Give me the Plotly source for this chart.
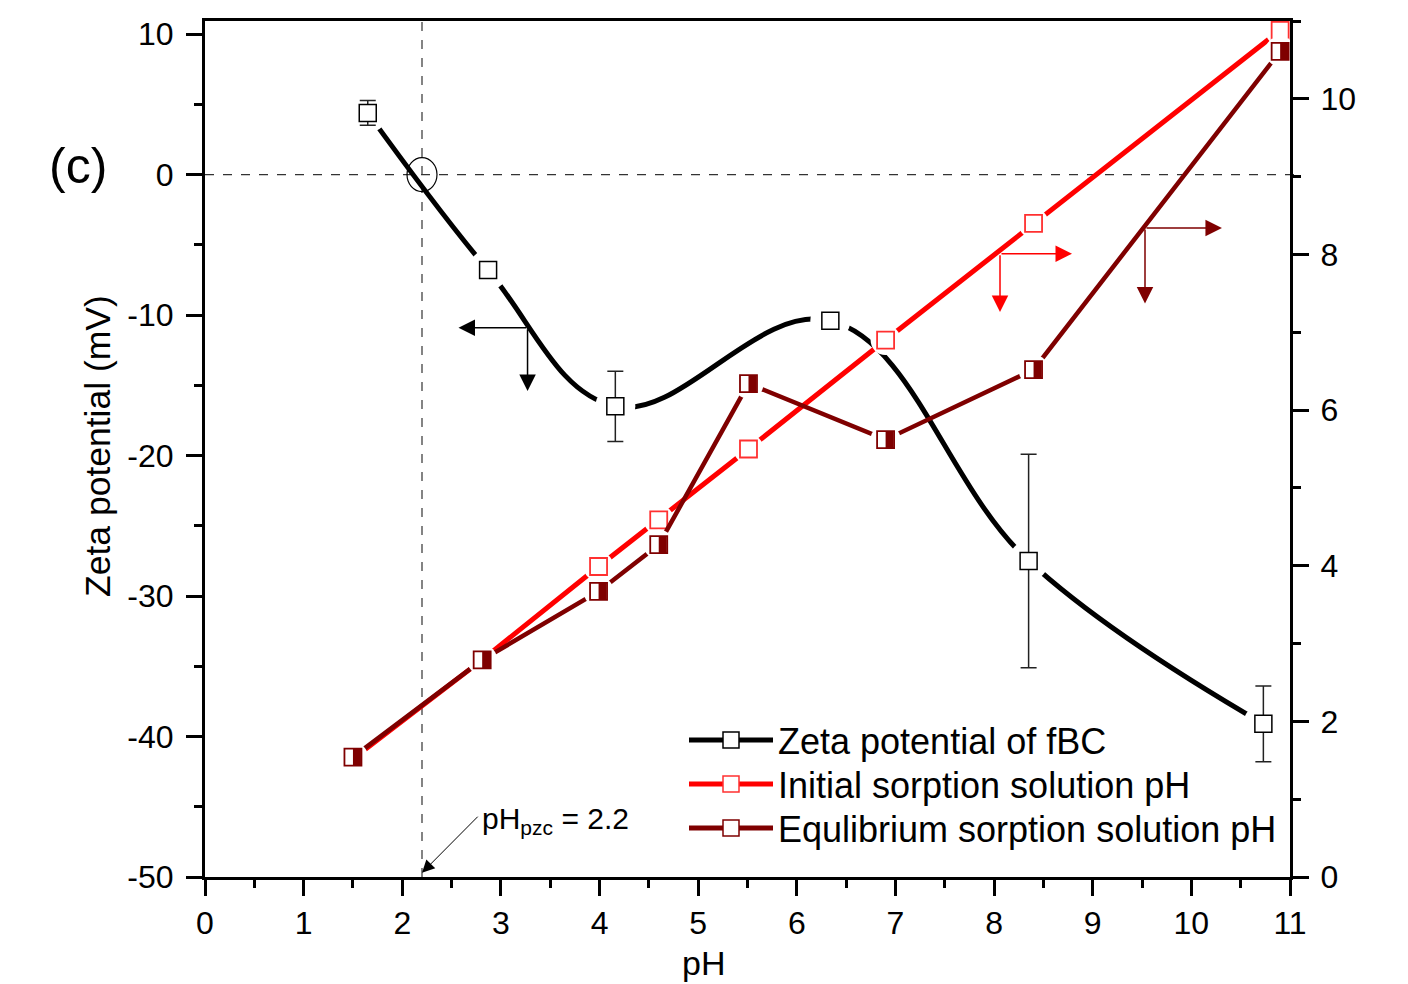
import plotly.graph_objects as go

# ---------------- data ----------------
zeta_ph = [1.65, 2.87, 4.16, 6.34, 8.35, 10.73]
zeta_mv = [4.39, -6.8, -16.5, -10.4, -27.5, -39.1]
zeta_err = [0.88, 0.0, 2.5, 0.15, 7.6, 2.7]

sorp_ph = [1.5, 2.81, 3.99, 4.6, 5.51, 6.9, 8.4, 10.9]
initial_ph = [1.52, 2.79, 3.99, 4.59, 5.5, 6.9, 8.4, 10.88]
equil_ph = [1.54, 2.79, 3.67, 4.27, 6.34, 5.62, 6.52, 10.61]

x_ticks = list(range(0, 12))
y_ticks = [-50, -40, -30, -20, -10, 0, 10]
y_ticklabels = ["-50", "-40", "-30", "-20", "-10", "0", "10"]
y2_ticks = [0, 2, 4, 6, 8, 10]

series_names = ["Zeta potential of fBC", "Initial sorption solution pH", "Equlibrium sorption solution pH"]

PH_PZC = 2.2

FONT = "Arial, 'Liberation Sans', sans-serif"
BLACK = "#000000"
RED = "#ff0000"
RED_EDGE = "#ff3030"
DRED = "#7f0000"

fig = go.Figure()

# legend-only entries, each in its own legend box
legend_cols = [(BLACK, BLACK), (RED, RED_EDGE), (DRED, DRED)]
for i, (name, (lc, mc)) in enumerate(zip(series_names, legend_cols)):
    fig.add_trace(go.Scatter(x=[None], y=[None], mode="lines+markers", name=name,
                             legend="legend" if i == 0 else f"legend{i + 1}",
                             line=dict(color=lc, width=5),
                             marker=dict(symbol="square", size=17, color="white", line=dict(color=mc, width=1.5))))

# zeta potential (left axis)
fig.add_trace(go.Scatter(x=zeta_ph, y=zeta_mv, mode="lines", line=dict(color=BLACK, width=5, shape="spline", smoothing=1.1),
                         showlegend=False, hoverinfo="skip"))
fig.add_trace(go.Scatter(x=zeta_ph, y=zeta_mv, mode="markers", showlegend=False, hoverinfo="skip",
                         marker=dict(symbol="circle", size=40, color="white", line=dict(width=0))))
fig.add_trace(go.Scatter(x=zeta_ph, y=zeta_mv, mode="markers", showlegend=False,
                         marker=dict(symbol="square", size=17, color="white", line=dict(color=BLACK, width=1.5)),
                         error_y=dict(type="data", array=zeta_err, visible=True, color="#222222", thickness=1.5, width=8)))

# initial pH (right axis)
fig.add_trace(go.Scatter(x=sorp_ph, y=initial_ph, yaxis="y2", mode="lines", line=dict(color=RED, width=5),
                         showlegend=False, hoverinfo="skip"))
fig.add_trace(go.Scatter(x=sorp_ph, y=initial_ph, yaxis="y2", mode="markers", showlegend=False, hoverinfo="skip",
                         marker=dict(symbol="circle", size=30, color="white", line=dict(width=0))))
fig.add_trace(go.Scatter(x=sorp_ph, y=initial_ph, yaxis="y2", mode="markers", showlegend=False,
                         marker=dict(symbol="square", size=17, color="white", line=dict(color=RED_EDGE, width=1.8))))

# equilibrium pH (right axis)
fig.add_trace(go.Scatter(x=sorp_ph, y=equil_ph, yaxis="y2", mode="lines", line=dict(color=DRED, width=4.5),
                         showlegend=False, hoverinfo="skip"))
fig.add_trace(go.Scatter(x=sorp_ph, y=equil_ph, yaxis="y2", mode="markers", showlegend=False, hoverinfo="skip",
                         marker=dict(symbol="circle", size=30, color="white", line=dict(width=0))))
fig.add_trace(go.Scatter(x=sorp_ph, y=equil_ph, yaxis="y2", mode="markers", showlegend=False,
                         marker=dict(symbol="square", size=17, color="white", line=dict(color=DRED, width=1.8))))
# filled right half of the equilibrium markers
px_per_unit = 1085 / 11.0
half_shift = 4.0 / px_per_unit
fig.add_trace(go.Scatter(x=[v + half_shift for v in sorp_ph], y=equil_ph, yaxis="y2", mode="markers",
                         showlegend=False, hoverinfo="skip",
                         marker=dict(symbol="line-ns", size=12, color=DRED, line=dict(color=DRED, width=8))))

axis_common = dict(showline=True, linecolor=BLACK, linewidth=3, ticks="outside", ticklen=16, tickwidth=3,
                   tickcolor=BLACK, showgrid=False, zeroline=False,
                   tickfont=dict(family=FONT, size=32, color=BLACK))

legend_common = dict(xanchor="left", yanchor="middle", bgcolor="rgba(0,0,0,0)",
                     font=dict(family=FONT, size=36, color=BLACK), itemwidth=84, tracegroupgap=0)
leg_x = (684 - 205) / 1085
leg_centers = [740, 784, 828]

fig.update_layout(
    width=1408, height=984,
    margin=dict(l=205, r=118, t=21, b=107),
    paper_bgcolor="white", plot_bgcolor="white",
    font=dict(family=FONT, color=BLACK),
    xaxis=dict(range=[0, 11], tickvals=x_ticks, mirror=True,
               minor=dict(dtick=0.5, ticks="outside", ticklen=8, tickwidth=3, tickcolor=BLACK),
               ticklabelstandoff=0, **axis_common),
    yaxis=dict(range=[-50, 10.93], tickvals=y_ticks, ticktext=y_ticklabels,
               minor=dict(dtick=5, ticks="outside", ticklen=8, tickwidth=3, tickcolor=BLACK),
               ticklabelstandoff=6, **axis_common),
    yaxis2=dict(range=[0, 11], tickvals=y2_ticks, overlaying="y", side="right",
                minor=dict(dtick=1, ticks="outside", ticklen=8, tickwidth=3, tickcolor=BLACK),
                ticklabelstandoff=5, **axis_common),
    legend=dict(x=leg_x, y=(877 - leg_centers[0]) / 856, **legend_common),
    legend2=dict(x=leg_x, y=(877 - leg_centers[1]) / 856, **legend_common),
    legend3=dict(x=leg_x, y=(877 - leg_centers[2]) / 856, **legend_common),
    showlegend=True,
)

# reference dashed lines and pzc circle
fig.add_shape(type="line", xref="paper", yref="y", x0=0, x1=1.012, y0=0, y1=0,
              line=dict(color="#333333", width=1.2, dash="dash"), layer="below")
fig.add_shape(type="line", xref="x", yref="paper", x0=PH_PZC, x1=PH_PZC, y0=0, y1=1.007,
              line=dict(color="#333333", width=1.2, dash="dash"), layer="below")
fig.add_shape(type="circle", xref="x", yref="y", xsizemode="pixel", ysizemode="pixel",
              xanchor=PH_PZC, yanchor=0, x0=-15, x1=15, y0=-17, y1=17,
              line=dict(color=BLACK, width=1.2))

def arrow(x, y, ax, ay, color, yref="y", width=1.5, size=2.2):
    fig.add_annotation(x=x, y=y, ax=ax, ay=ay, xref="x", yref=yref, axref="x", ayref=yref,
                       text="", showarrow=True, arrowhead=2, arrowsize=size, arrowwidth=width,
                       arrowcolor=color)

# axis-indicator arrows
arrow(2.57, -10.9, 3.27, -10.9, BLACK)
arrow(3.27, -15.4, 3.27, -10.9, BLACK)
arrow(8.79, 8.01, 8.06, 8.01, RED, yref="y2")
arrow(8.06, 7.26, 8.06, 8.01, RED, yref="y2")
arrow(10.31, 8.34, 9.53, 8.34, DRED, yref="y2")
arrow(9.53, 7.37, 9.53, 8.34, DRED, yref="y2")

# pH_pzc arrow and label
arrow(PH_PZC, -49.7, 2.78, -45.6, BLACK, width=1.0, size=2.5)
fig.add_annotation(x=2.79, y=-46.0, xref="x", yref="y", text="pH<sub>pzc</sub> = 2.2", showarrow=False,
                   xanchor="left", yanchor="middle", font=dict(family=FONT, size=30, color=BLACK))

# axis titles and panel label
fig.add_annotation(x=(703 - 205) / 1085, y=-0.10, xref="paper", yref="paper", text="pH", showarrow=False,
                   xanchor="center", yanchor="middle", font=dict(family=FONT, size=34, color=BLACK))
fig.add_annotation(x=(98 - 205) / 1085, y=(877 - 446) / 856, xref="paper", yref="paper",
                   text="Zeta potential (mV)", textangle=-90, showarrow=False,
                   xanchor="center", yanchor="middle", font=dict(family=FONT, size=35.5, color=BLACK))
fig.add_annotation(x=(78 - 205) / 1085, y=(877 - 166) / 856, xref="paper", yref="paper", text="(c)",
                   showarrow=False, xanchor="center", yanchor="middle",
                   font=dict(family=FONT, size=50, color=BLACK))

fig.write_html("out.html")
